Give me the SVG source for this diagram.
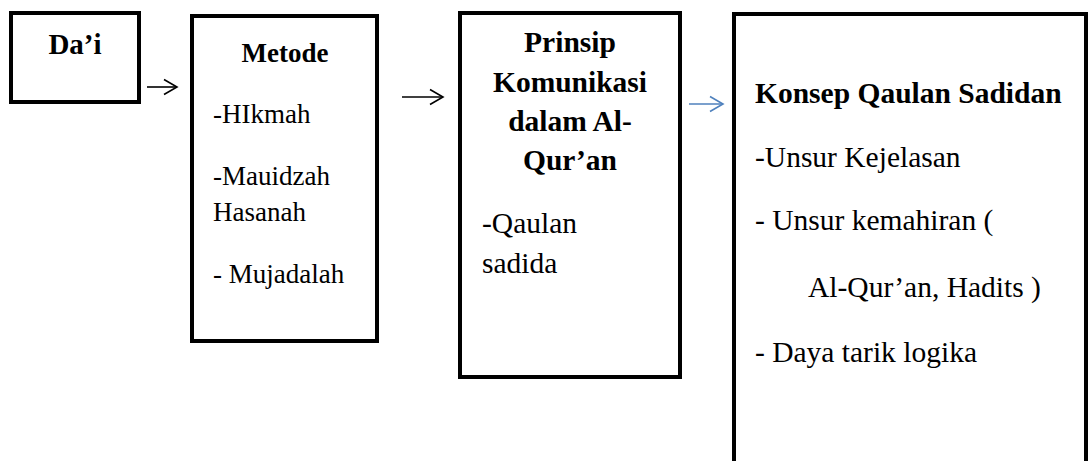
<svg xmlns="http://www.w3.org/2000/svg" width="1088" height="461" viewBox="0 0 1088 461">
<style>
.box{fill:#fff;stroke:#000;stroke-width:4}
.t{font-family:"Liberation Serif","Times New Roman",serif;fill:#000}
.b{font-weight:bold}
.c{text-anchor:middle}
.conn{fill:none;stroke-width:1.6}
</style>
<defs>
<marker id="ah" markerUnits="userSpaceOnUse" markerWidth="20" markerHeight="20" refX="14" refY="10" orient="auto" overflow="visible">
<path d="M1,2.5 L14,10 L1,17.5" fill="none" stroke="#000" stroke-width="1.6"/>
</marker>
<marker id="ahb" markerUnits="userSpaceOnUse" markerWidth="20" markerHeight="20" refX="14" refY="10" orient="auto" overflow="visible">
<path d="M1,2.5 L14,10 L1,17.5" fill="none" stroke="#4F81BD" stroke-width="1.6"/>
</marker>
</defs>
<rect width="1088" height="461" fill="#fff"/>
<g id="connectors">
<line class="conn" x1="147" y1="87" x2="177" y2="87" stroke="#000" marker-end="url(#ah)"/>
<line class="conn" x1="402" y1="97" x2="443" y2="97" stroke="#000" marker-end="url(#ah)"/>
<line class="conn" x1="689" y1="104" x2="723" y2="104" stroke="#4F81BD" marker-end="url(#ahb)"/>
</g>
<g id="node-dai">
<rect class="box" x="11" y="13" width="128" height="89"/>
<text class="t b c" x="75" y="54" font-size="29">Da’i</text>
</g>
<g id="node-metode">
<rect class="box" x="192" y="16" width="185" height="325"/>
<text class="t b c" x="285" y="62" font-size="27">Metode</text>
<text class="t" x="213" y="123" font-size="27">-HIkmah</text>
<text class="t" x="213" y="185" font-size="27">-Mauidzah</text>
<text class="t" x="213" y="221" font-size="27">Hasanah</text>
<text class="t" x="213" y="283" font-size="27">- Mujadalah</text>
</g>
<g id="node-prinsip">
<rect class="box" x="460" y="13" width="220" height="364"/>
<text class="t b c" x="570" y="52" font-size="29.5">Prinsip</text>
<text class="t b c" x="570" y="92" font-size="29.5">Komunikasi</text>
<text class="t b c" x="570" y="131" font-size="29.5">dalam Al-</text>
<text class="t b c" x="570" y="170" font-size="29.5">Qur’an</text>
<text class="t" x="482" y="233" font-size="29.5">-Qaulan</text>
<text class="t" x="482" y="273" font-size="29.5">sadida</text>
</g>
<g id="node-konsep">
<rect class="box" x="734" y="14" width="352" height="460"/>
<text class="t b" x="755" y="103" font-size="29.5">Konsep Qaulan Sadidan</text>
<text class="t" x="755" y="167" font-size="29.5">-Unsur Kejelasan</text>
<text class="t" x="755" y="230" font-size="29.5">- Unsur kemahiran (</text>
<text class="t" x="808" y="297" font-size="29.5">Al-Qur’an, Hadits )</text>
<text class="t" x="755" y="362" font-size="29.5">- Daya tarik logika</text>
</g>
</svg>
